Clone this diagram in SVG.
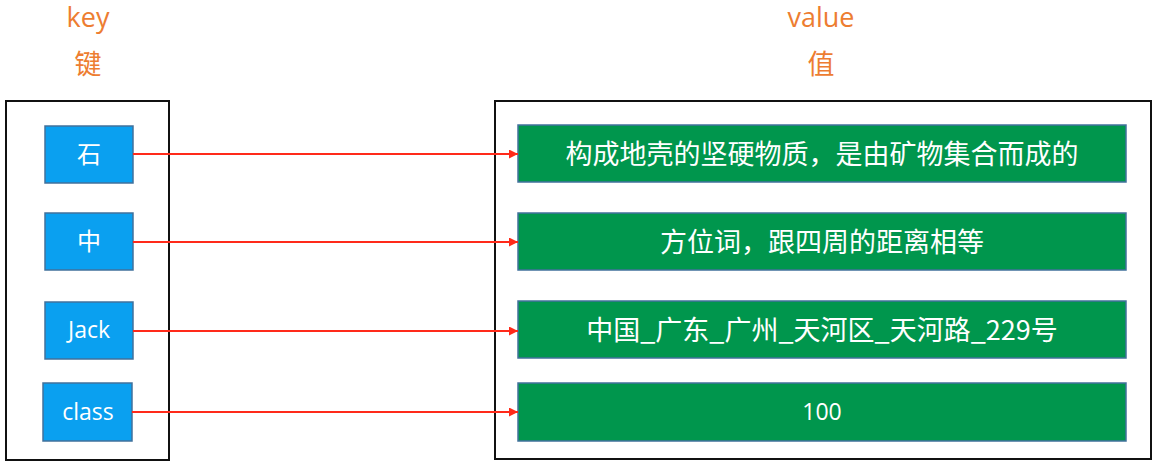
<svg xmlns="http://www.w3.org/2000/svg" width="1161" height="468" viewBox="0 0 1161 468">
<defs>
<style>
.outer{fill:#fff;stroke:#111;stroke-width:2}
.key{fill:#0AA0F0;stroke:#41719C;stroke-width:1.5}
.val{fill:#00964D;stroke:#41719C;stroke-width:1.5}
.hdr{fill:#ED7D31;font-family:"Open Sans","Noto Sans CJK SC",sans-serif;text-anchor:middle}
.kt{fill:#fff;font-family:"Open Sans","Noto Sans CJK SC",sans-serif;font-size:23px;text-anchor:middle}
.cj{fill:#fff;font-family:"Noto Sans CJK SC",sans-serif;text-anchor:middle}
.conn{stroke:#FF2A1A;stroke-width:2;fill:none}
</style>
<marker id="ah" viewBox="0 0 10 10" refX="10" refY="5" markerWidth="9" markerHeight="9" markerUnits="userSpaceOnUse" orient="auto">
<path d="M0,0 L10,5 L0,10 Z" fill="#FF2A1A"/>
</marker>
</defs>
<rect width="1161" height="468" fill="#fff"/>
<g id="headers">
<text class="hdr" x="88" y="27" font-size="27">key</text>
<text class="hdr" x="88" y="74" font-size="27" style="font-family:'Noto Sans CJK SC',sans-serif">键</text>
<text class="hdr" x="821" y="27" font-size="27">value</text>
<text class="hdr" x="821" y="74" font-size="27" style="font-family:'Noto Sans CJK SC',sans-serif">值</text>
</g>
<g id="key-container"><rect class="outer" x="6" y="101" width="163" height="359"/></g>
<g id="value-container"><rect class="outer" x="495" y="101" width="656" height="358"/></g>
<g id="key-shi"><rect class="key" x="45" y="126" width="88" height="57"/><text class="cj" x="89" y="163" font-size="24">石</text></g>
<g id="key-zhong"><rect class="key" x="45" y="213" width="88" height="57"/><text class="cj" x="89" y="250" font-size="24">中</text></g>
<g id="key-jack"><rect class="key" x="45" y="302" width="88" height="57"/><text class="kt" x="89" y="338">Jack</text></g>
<g id="key-class"><rect class="key" x="43" y="383" width="89" height="58"/><text class="kt" x="88" y="420">class</text></g>
<g id="val-1"><rect class="val" x="518" y="125" width="608" height="57"/><text class="cj" x="822" y="164" font-size="27">构成地壳的坚硬物质，是由矿物集合而成的</text></g>
<g id="val-2"><rect class="val" x="518" y="213" width="608" height="57"/><text class="cj" x="822" y="252" font-size="27">方位词，跟四周的距离相等</text></g>
<g id="val-3"><rect class="val" x="518" y="301" width="608" height="57"/><text class="cj" x="822" y="340" font-size="27">中国_广东_广州_天河区_天河路_229号</text></g>
<g id="val-4"><rect class="val" x="518" y="383" width="608" height="58"/><text class="kt" x="822" y="420">100</text></g>
<g id="connectors">
<line class="conn" x1="133" y1="154" x2="518" y2="154" marker-end="url(#ah)"/>
<line class="conn" x1="133" y1="242" x2="518" y2="242" marker-end="url(#ah)"/>
<line class="conn" x1="133" y1="331" x2="518" y2="331" marker-end="url(#ah)"/>
<line class="conn" x1="132" y1="412" x2="518" y2="412" marker-end="url(#ah)"/>
</g>
</svg>
